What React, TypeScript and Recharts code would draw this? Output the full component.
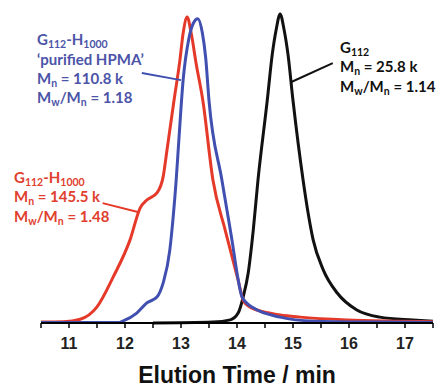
import { LineChart, Line, XAxis, YAxis, ReferenceLine } from 'recharts'

// elution time (min) / normalised RI signal
const redTime = [10.5, 10.9, 11.2, 11.5, 11.79, 12.09, 12.27, 12.39, 12.57, 12.68, 12.75, 12.875, 12.98, 13.04, 13.11, 13.18, 13.27, 13.39, 13.57, 13.79, 14.02, 14.11, 14.2, 14.36, 14.77, 15.13, 15.96, 16.8, 17.5]
const redSignal = [0.003, 0.004, 0.012, 0.052, 0.149, 0.269, 0.372, 0.398, 0.421, 0.472, 0.56, 0.72, 0.85, 0.94, 0.99, 0.94, 0.84, 0.72, 0.463, 0.3, 0.139, 0.074, 0.055, 0.042, 0.026, 0.019, 0.01, 0.006, 0.004]

const blueTime = [10.5, 11.9, 11.96, 12.21, 12.39, 12.57, 12.68, 12.8, 12.86, 12.91, 12.95, 13.04, 13.14, 13.22, 13.3, 13.38, 13.44, 13.5, 13.73, 13.82, 13.91, 14.0, 14.09, 14.29, 14.77, 15.36, 16.5, 17.5]
const blueSignal = [0.002, 0.002, 0.006, 0.032, 0.065, 0.084, 0.129, 0.236, 0.343, 0.453, 0.56, 0.79, 0.92, 0.97, 0.985, 0.94, 0.86, 0.72, 0.463, 0.366, 0.269, 0.162, 0.084, 0.049, 0.019, 0.006, 0.003, 0.002]

const blackTime = [12.5, 13.57, 13.88, 14.02, 14.11, 14.2, 14.29, 14.375, 14.54, 14.63, 14.7, 14.77, 14.84, 14.91, 15.0, 15.18, 15.27, 15.36, 15.54, 15.79, 16.14, 16.55, 17.14, 17.5]
const blackSignal = [0, 0.003, 0.01, 0.032, 0.084, 0.162, 0.3, 0.463, 0.72, 0.87, 0.95, 1.0, 0.95, 0.87, 0.72, 0.463, 0.356, 0.269, 0.172, 0.097, 0.042, 0.019, 0.01, 0.006]

const xTicks = [10.5, 11, 11.5, 12, 12.5, 13, 13.5, 14, 14.5, 15, 15.5, 16, 16.5, 17, 17.5]

const RED = '#e5392a'
const BLUE = '#4150b0'
const BLACK = '#111111'

const toPoints = (t: number[], s: number[]) => t.map((x, i) => ({ t: x, v: s[i] }))
const red = toPoints(redTime, redSignal)
const blue = toPoints(blueTime, blueSignal)
const black = toPoints(blackTime, blackSignal)

const TickLabel = ({ x, y, payload }: any) => {
  if (!Number.isInteger(payload.value)) return null
  return (
    <text x={x} y={y + 19} textAnchor="middle" fontSize={16} fontWeight="bold"
      fontFamily="'Liberation Sans', Arial, sans-serif" fill="#222">
      {payload.value}
    </text>
  )
}

const note = { fontFamily: 'Lato, sans-serif', fontWeight: 'bold' as const, fontSize: 15 }

function Sub({ children }: any) {
  return <tspan dy={3} fontSize={10.5}>{children}</tspan>
}

export default function App() {
  return (
    <div style={{ position: 'absolute', left: 0, top: 0, width: 437, height: 388, background: '#fff' }}>
      <LineChart width={437} height={388} margin={{ top: 14, right: 4, bottom: 2, left: 41 }}>
        <XAxis type="number" dataKey="t" domain={[10.5, 17.5]} ticks={xTicks} interval={0} allowDataOverflow
          height={63} tickSize={5} tick={<TickLabel />}
          axisLine={{ stroke: '#000', strokeWidth: 2 }} tickLine={{ stroke: '#000', strokeWidth: 1.5 }}
          label={{ value: 'Elution Time / min', position: 'insideBottom', offset: 3, fontSize: 23,
            fontWeight: 'bold', fontFamily: "'Liberation Sans', Arial, sans-serif", fill: '#111' }} />
        <YAxis hide type="number" domain={[0, 1]} />
        <Line data={black} dataKey="v" type="monotone" stroke={BLACK} strokeWidth={3} dot={false} isAnimationActive={false} />
        <Line data={red} dataKey="v" type="monotone" stroke={RED} strokeWidth={3} dot={false} isAnimationActive={false} />
        <Line data={blue} dataKey="v" type="monotone" stroke={BLUE} strokeWidth={3} dot={false} isAnimationActive={false} />
        <ReferenceLine segment={[{ x: 11.6, y: 0.388 }, { x: 12.23, y: 0.359 }]} stroke={RED} strokeWidth={2} ifOverflow="visible" />
        <ReferenceLine segment={[{ x: 12.3, y: 0.809 }, { x: 13.0, y: 0.786 }]} stroke={BLUE} strokeWidth={2} ifOverflow="visible" />
        <ReferenceLine segment={[{ x: 15.71, y: 0.841 }, { x: 14.97, y: 0.78 }]} stroke={BLACK} strokeWidth={2} ifOverflow="visible" />
      </LineChart>
      <svg width={437} height={388} style={{ position: 'absolute', left: 0, top: 0, pointerEvents: 'none' }}>
        <g {...note} fill="#4c54a8">
          <text x={37} y={45}>G<Sub>112</Sub><tspan dy={-3}>-H</tspan><Sub>1000</Sub></text>
          <text x={37} y={65}>‘purified HPMA’</text>
          <text x={37} y={84}>M<Sub>n</Sub><tspan dy={-3}> = 110.8 k</tspan></text>
          <text x={37} y={103}>M<Sub>w</Sub><tspan dy={-3}>/M</tspan><Sub>n</Sub><tspan dy={-3}> = 1.18</tspan></text>
        </g>
        <g {...note} fill="#e0402e">
          <text x={14} y={183}>G<Sub>112</Sub><tspan dy={-3}>-H</tspan><Sub>1000</Sub></text>
          <text x={14} y={202}>M<Sub>n</Sub><tspan dy={-3}> = 145.5 k</tspan></text>
          <text x={14} y={222}>M<Sub>w</Sub><tspan dy={-3}>/M</tspan><Sub>n</Sub><tspan dy={-3}> = 1.48</tspan></text>
        </g>
        <g {...note} fill="#111">
          <text x={340} y={53}>G<Sub>112</Sub></text>
          <text x={340} y={72}>M<Sub>n</Sub><tspan dy={-3}> = 25.8 k</tspan></text>
          <text x={340} y={92}>M<Sub>w</Sub><tspan dy={-3}>/M</tspan><Sub>n</Sub><tspan dy={-3}> = 1.14</tspan></text>
        </g>
      </svg>
    </div>
  )
}
